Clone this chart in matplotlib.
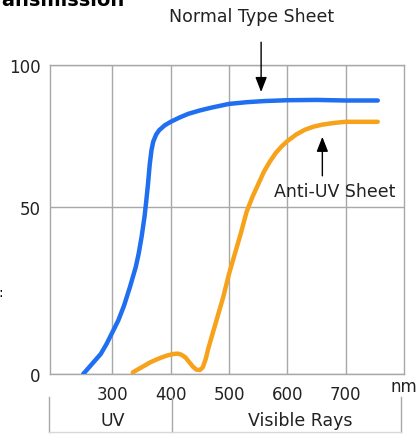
import matplotlib
matplotlib.use("Agg")
import matplotlib.pyplot as plt
from matplotlib.lines import Line2D
import numpy as np

# transmission curves (wavelength nm, %)
normal_nm = [250, 260, 270, 280, 290, 300, 310, 320, 330, 340, 345, 350, 355, 358, 361,
             364, 367, 370, 375, 380, 390, 400, 415, 430, 450, 470, 500, 530, 560, 600,
             650, 700, 755]
normal_pct = [0, 2, 4, 6, 9, 12.5, 16, 20.5, 26, 32, 36, 41, 47, 52, 58,
              65, 70, 73, 75.5, 77, 78.8, 80, 81.5, 82.8, 84, 85, 86.3, 86.9, 87.3, 87.6,
              87.7, 87.5, 87.5]

antiuv_nm = [335, 345, 355, 365, 375, 385, 395, 405, 412, 418, 425, 432, 438, 444, 450,
             455, 460, 465, 470, 480, 490, 500, 510, 520, 530, 540, 550, 560, 570, 580,
             590, 600, 615, 630, 645, 660, 680, 700, 730, 755]
antiuv_pct = [0.5, 1.5, 2.5, 3.5, 4.3, 5, 5.6, 6, 6.1, 5.8, 5, 3.5, 2.2, 1.3, 1.2,
              2, 4.5, 8, 11, 17, 23, 30, 36, 42, 48.5, 53.5, 58, 62.5, 66, 69,
              71.3, 73.2, 75.5, 77.2, 78.3, 79, 79.6, 80, 80, 80]

x_ticks = [300, 400, 500, 600, 700]
y_ticks = [0, 50, 100]

BLUE = "#1f6ff0"
ORANGE = "#f7a21b"
GRID = "#a8a8a8"
TXT = "#222222"

W, H = 420, 435
fig = plt.figure(figsize=(W / 100, H / 100), dpi=100)
plt.rcParams['font.family'] = ['DejaVu Sans']


def px(x, y):
    # pixel position -> figure fraction
    return x / W, 1 - y / H


# the original's y axis is not evenly spaced: 0-50 is taller than 50-100
def fwd(v):
    v = np.asarray(v, dtype=float)
    return np.where(v <= 50, v * 3.34, 167 + (v - 50) * 2.84)


def inv(t):
    t = np.asarray(t, dtype=float)
    return np.where(t <= 167, t / 3.34, 50 + (t - 167) / 2.84)


ax = fig.add_axes([50 / W, 1 - 375 / H, 354 / W, 309 / H])
ax.set_yscale('function', functions=(fwd, inv))
ax.plot(normal_nm, normal_pct, color=BLUE, lw=3.2, solid_capstyle='round',
        solid_joinstyle='round', zorder=3)
ax.plot(antiuv_nm, antiuv_pct, color=ORANGE, lw=3.2, solid_capstyle='round',
        solid_joinstyle='round', zorder=3)

ax.set_xlim(193, 800)
ax.set_ylim(0, 100)
ax.set_xticks(x_ticks)
ax.set_yticks(y_ticks)
ax.tick_params(length=0, labelsize=12, colors=TXT)
ax.tick_params(axis='x', pad=8)
ax.tick_params(axis='y', pad=7)
ax.grid(True, color=GRID, lw=1)
for s in ax.spines.values():
    s.set_color(GRID)
    s.set_linewidth(1)

# annotations
ax.annotate('', xy=(555, 89.5), xytext=(555, 109), annotation_clip=False,
            arrowprops=dict(arrowstyle='-|>,head_length=0.9,head_width=0.35', color='black', lw=1))
fig.text(*px(252, 17), "Normal Type Sheet", ha='center', va='center', fontsize=12.5, color=TXT)

ax.annotate('', xy=(660, 75.7), xytext=(660, 60), annotation_clip=False,
            arrowprops=dict(arrowstyle='-|>,head_length=0.9,head_width=0.35', color='black', lw=1))
ax.text(682, 55.8, "Anti-UV Sheet", ha='center', va='center', fontsize=12.5, color=TXT)

fig.text(*px(404, 387), "nm", ha='center', va='center', fontsize=12, color=TXT)

# partly cut-off title and label from the source image
fig.text(*px(125, 6), "Transmission", ha='right', va='baseline', fontsize=14, fontweight='bold')
fig.text(*px(1, 293), ":", ha='center', va='center', fontsize=10)

# UV / visible band under the axis
for xp in (49, 172, 401):
    fig.add_artist(Line2D([xp / W, xp / W], [1 - 398 / H, 1 - 433 / H], color=GRID, lw=1))
fig.add_artist(Line2D([49 / W, 401 / W], [1 - 433 / H, 1 - 433 / H], color="#d8d8d8", lw=1))
fig.text(*px(113, 421), "UV", ha='center', va='center', fontsize=12.5, color=TXT)
fig.text(*px(300, 421), "Visible Rays", ha='center', va='center', fontsize=12.5, color=TXT)

fig.savefig("out.png", dpi=100)
